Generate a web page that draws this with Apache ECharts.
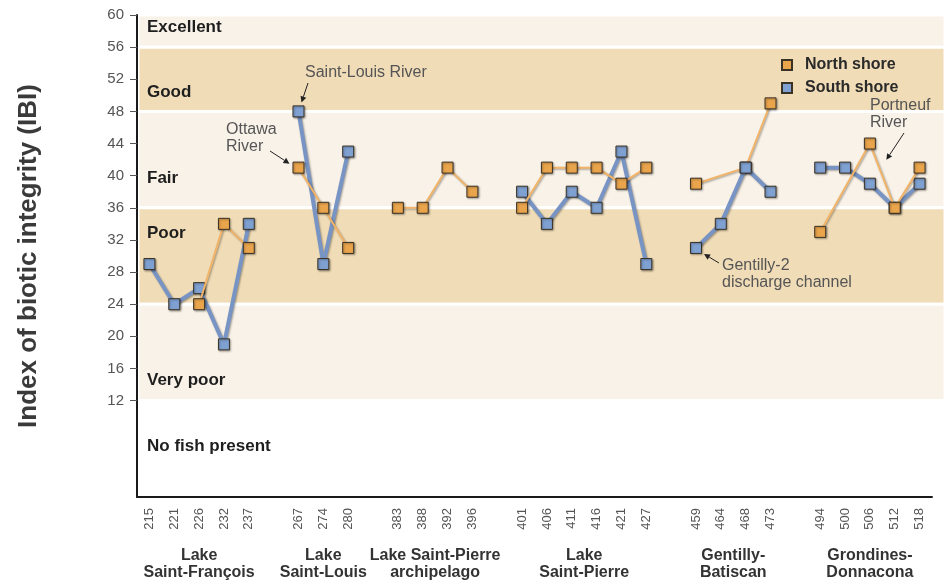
<!DOCTYPE html>
<html>
<head>
<meta charset="utf-8">
<script src="https://cdn.jsdelivr.net/npm/echarts@6/dist/echarts.min.js"></script>
<style>
  html, body { margin: 0; padding: 0; background: #fff; }
  #chart { width: 949px; height: 584px; }
</style>
</head>
<body>
<div id="chart"></div>
<script>
// Sampling stations grouped by river section
const groupNames = ['Lake\nSaint-François', 'Lake\nSaint-Louis', 'Lake Saint-Pierre\narchipelago',
                    'Lake\nSaint-Pierre', 'Gentilly-\nBatiscan', 'Grondines-\nDonnacona'];
const groupSites = [
  ['215', '221', '226', '232', '237'],
  ['267', '274', '280'],
  ['383', '388', '392', '396'],
  ['401', '406', '411', '416', '421', '427'],
  ['459', '464', '468', '473'],
  ['494', '500', '506', '512', '518']
];
// IBI per station, north and south shore (null = not sampled)
const northShore = [
  [null, null, 24, 34, 31],
  [41, 36, 31],
  [36, 36, 41, 38],
  [36, 41, 41, 41, 39, 41],
  [39, null, 41, 49],
  [33, null, 44, 36, 41]
];
const southShore = [
  [29, 24, 26, 19, 34],
  [48, 29, 43],
  [null, null, null, null],
  [38, 34, 38, 36, 43, 29],
  [31, 34, 41, 38],
  [41, 41, 39, 36, 39]
];
const ibiTicks = [12, 16, 20, 24, 28, 32, 36, 40, 44, 48, 52, 56, 60];
// Integrity classes: [lower bound, upper bound]
const classNames = ['Excellent', 'Good', 'Fair', 'Poor', 'Very poor'];
const classBounds = [[56, 60], [48, 56], [36, 48], [24, 36], [12, 24]];
const noFishLabel = 'No fish present';

const FONT = '"Liberation Sans", Arial, Helvetica, sans-serif';
const NORTH_FILL = '#eaa54c', NORTH_LINE = '#f1b468';
const SOUTH_FILL = '#7fa1d2', SOUTH_LINE = '#7794c4';
const BAND_LIGHT = '#f9f2e8', BAND_TAN = '#f0dcb7';

// Category slots: one blank slot separates each group
const categories = [];
const offsets = [];
groupSites.forEach((sites, gi) => {
  if (gi) categories.push('');
  offsets.push(categories.length);
  categories.push(...sites);
});
function spread(vals, gi) {
  const arr = categories.map(() => null);
  vals.forEach((v, i) => { arr[offsets[gi] + i] = v; });
  return arr;
}

function shoreSeries(name, fill, lineColor, lineWidth, data, z) {
  return {
    name, type: 'line', data, z,
    xAxisIndex: 0, yAxisIndex: 0,
    connectNulls: true,
    symbol: 'rect', symbolSize: 11,
    lineStyle: { color: lineColor, width: lineWidth,
      shadowColor: 'rgba(0,0,0,0.35)', shadowBlur: 2, shadowOffsetX: 1, shadowOffsetY: 1 },
    itemStyle: { color: fill, borderColor: '#3b3226', borderWidth: 1,
      shadowColor: 'rgba(0,0,0,0.35)', shadowBlur: 2, shadowOffsetX: 1, shadowOffsetY: 1 },
    emphasis: { disabled: true },
    animation: false
  };
}

const series = [{
  type: 'custom',
  xAxisIndex: 1, yAxisIndex: 1, z: 0, silent: true, animation: false,
  data: classBounds.map((b, i) => [b[0], b[1], i % 2]),
  renderItem(params, api) {
    const cs = params.coordSys;
    const top = api.coord([0, api.value(1)])[1];
    const bot = api.coord([0, api.value(0)])[1];
    return {
      type: 'rect',
      shape: { x: cs.x, y: top, width: cs.width, height: bot - top },
      style: { fill: api.value(2) ? BAND_TAN : BAND_LIGHT, stroke: '#fff', lineWidth: 3 }
    };
  }
}];

groupSites.forEach((sites, gi) => {
  const southZ = gi === 4 ? 5 : 3;   // south markers sit on top in Gentilly-Batiscan
  series.push(shoreSeries('South shore', SOUTH_FILL, SOUTH_LINE, 4, spread(southShore[gi], gi), southZ));
  series.push(shoreSeries('North shore', NORTH_FILL, NORTH_LINE, 2, spread(northShore[gi], gi), 4));
});

const chart = echarts.init(document.getElementById('chart'), null, { renderer: 'canvas' });

const option = {
  backgroundColor: '#fff',
  animation: false,
  textStyle: { fontFamily: FONT },
  grid: [
    { left: 137, right: 17, top: 15, bottom: 87 },
    { left: 138, right: 4, top: 15, bottom: 87 }
  ],
  legend: {
    data: ['North shore', 'South shore'],
    orient: 'vertical',
    left: 776, top: 52,
    icon: 'rect', itemWidth: 10, itemHeight: 10, itemGap: 7,
    selectedMode: false,
    textStyle: { fontFamily: FONT, fontSize: 16, fontWeight: 'bold', color: '#2a2a2a', padding: [0, 0, 0, 8] }
  },
  xAxis: [{
    type: 'category', gridIndex: 0, data: categories, z: 10,
    axisLine: { lineStyle: { color: '#1a1a1a', width: 2 } },
    axisTick: { inside: true, length: 8, interval: 0, alignWithLabel: true, lineStyle: { color: '#444' } },
    axisLabel: { interval: 0, rotate: 90, fontSize: 13, color: '#555', margin: 11, fontFamily: FONT },
    splitLine: { show: false }
  }, {
    type: 'value', gridIndex: 1, min: 0, max: 1, show: false
  }],
  yAxis: [{
    type: 'value', gridIndex: 0, min: 0, max: 60, interval: 4, z: 10,
    name: 'Index of biotic integrity (IBI)',
    nameLocation: 'middle', nameGap: 95,
    nameTextStyle: { fontSize: 26, fontWeight: 'bold', color: '#3a3a3a', fontFamily: FONT },
    axisLine: { show: true, lineStyle: { color: '#1a1a1a', width: 2 } },
    axisTick: { show: true, length: 7, customValues: ibiTicks, lineStyle: { color: '#555' } },
    axisLabel: { customValues: ibiTicks, fontSize: 15, color: '#555', margin: 13, fontFamily: FONT },
    splitLine: { show: false }
  }, {
    type: 'value', gridIndex: 1, min: 0, max: 60, show: false
  }],
  series
};
chart.setOption(option);

// ---- labels and callouts placed from the axes ----
const px = (idx, v) => chart.convertToPixel({ xAxisIndex: 0, yAxisIndex: 0 }, [idx, v]);

function arrow(x1, y1, x2, y2) {
  const a = Math.atan2(y2 - y1, x2 - x1), L = 6, W = 3;
  const bx = x2 - L * Math.cos(a), by = y2 - L * Math.sin(a);
  return [
    { type: 'line', z: 20, shape: { x1, y1, x2: bx, y2: by }, style: { stroke: '#222', lineWidth: 1 } },
    { type: 'polygon', z: 20, shape: { points: [[x2, y2],
        [bx + W * Math.sin(a), by - W * Math.cos(a)], [bx - W * Math.sin(a), by + W * Math.cos(a)]] },
      style: { fill: '#222' } }
  ];
}
const noteStyle = (text, x, y, align) => ({
  type: 'text', z: 20, x, y,
  style: { text, fill: '#555', font: '16px ' + FONT, align: align || 'left', verticalAlign: 'top', lineHeight: 17 }
});

const graphics = [];

// class labels inside the bands
const classLabelY = [27, 92, 178, 233, 380];
classNames.forEach((n, i) => {
  graphics.push({ type: 'text', z: 20, x: 147, y: classLabelY[i],
    style: { text: n, fill: '#1e1e1e', font: 'bold 17px ' + FONT, verticalAlign: 'middle' } });
});
graphics.push({ type: 'text', z: 20, x: 147, y: 446,
  style: { text: noFishLabel, fill: '#1e1e1e', font: 'bold 17px ' + FONT, verticalAlign: 'middle' } });

// group names under the station codes
groupSites.forEach((sites, gi) => {
  const a = px(offsets[gi], 0)[0], b = px(offsets[gi] + sites.length - 1, 0)[0];
  graphics.push({ type: 'text', z: 20, x: (a + b) / 2, y: 547,
    style: { text: groupNames[gi], fill: '#333', font: 'bold 16px ' + FONT,
      align: 'center', verticalAlign: 'top', lineHeight: 17 } });
});

// callouts
const stl = px(offsets[1], southShore[1][0]);
graphics.push(noteStyle('Saint-Louis River', 305, 64));
graphics.push(...arrow(308, 83, stl[0] + 3, stl[1] - 9));

const ott = px(offsets[1], northShore[1][0]);
graphics.push(noteStyle('Ottawa\nRiver', 226, 121));
graphics.push(...arrow(270, 151, ott[0] - 9, ott[1] - 4));

const gen = px(offsets[4], southShore[4][0]);
graphics.push(noteStyle('Gentilly-2\ndischarge channel', 722, 257));
graphics.push(...arrow(719, 263, gen[0] + 8, gen[1] + 6));

const p1 = px(offsets[5] + 2, northShore[5][2]), p2 = px(offsets[5] + 3, northShore[5][3]);
const pm = [p1[0] + (p2[0] - p1[0]) * 0.3, p1[1] + (p2[1] - p1[1]) * 0.3];
graphics.push(noteStyle('Portneuf\nRiver', 870, 97));
graphics.push(...arrow(904, 133, pm[0] + 9, pm[1] - 3));

chart.setOption({ graphic: graphics });
</script>
</body>
</html>
